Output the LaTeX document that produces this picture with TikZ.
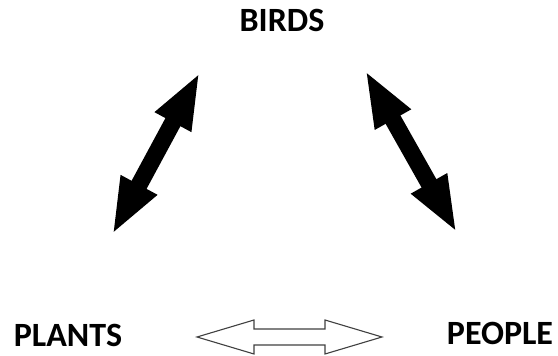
\documentclass[tikz,border=0pt]{standalone}
\usepackage{fontspec}
\setmainfont{Carlito}
\usetikzlibrary{arrows.meta}
\begin{document}
\begin{tikzpicture}[x=1pt,y=1pt,
  lab/.style={font=\bfseries\fontsize{34}{40}\selectfont, inner sep=0pt, anchor=base},
  fat/.style={line width=17pt, {Triangle[length=57pt,width=37pt]}-{Triangle[length=57pt,width=37pt]}},
  hollow/.style={draw=black!75, line width=1.1pt, fill=white, line join=miter}]
\useasboundingbox (0,0) rectangle (558,356);
\node[lab] (birds) at (282,324) {BIRDS};
\node[lab] (plants) at (68,9) {PLANTS};
\node[lab] (people) at (500,11) {PEOPLE};
\coordinate (l1) at (200,284);
\coordinate (l2) at (112,121);
\coordinate (r1) at (365,286);
\coordinate (r2) at (457,123);
\draw[fat] (l1) -- (l2);
\draw[fat] (r1) -- (r2);
\coordinate (h1) at (197,19);
\coordinate (h2) at (382,19);
\draw[hollow] (h1) -- ++(57,17) -- ++(0,-9) -- (325,27) -- ++(0,9) -- (h2) -- (325,2) -- ++(0,9) -- (254,11) -- ++(0,-9) -- cycle;
\end{tikzpicture}
\end{document}
